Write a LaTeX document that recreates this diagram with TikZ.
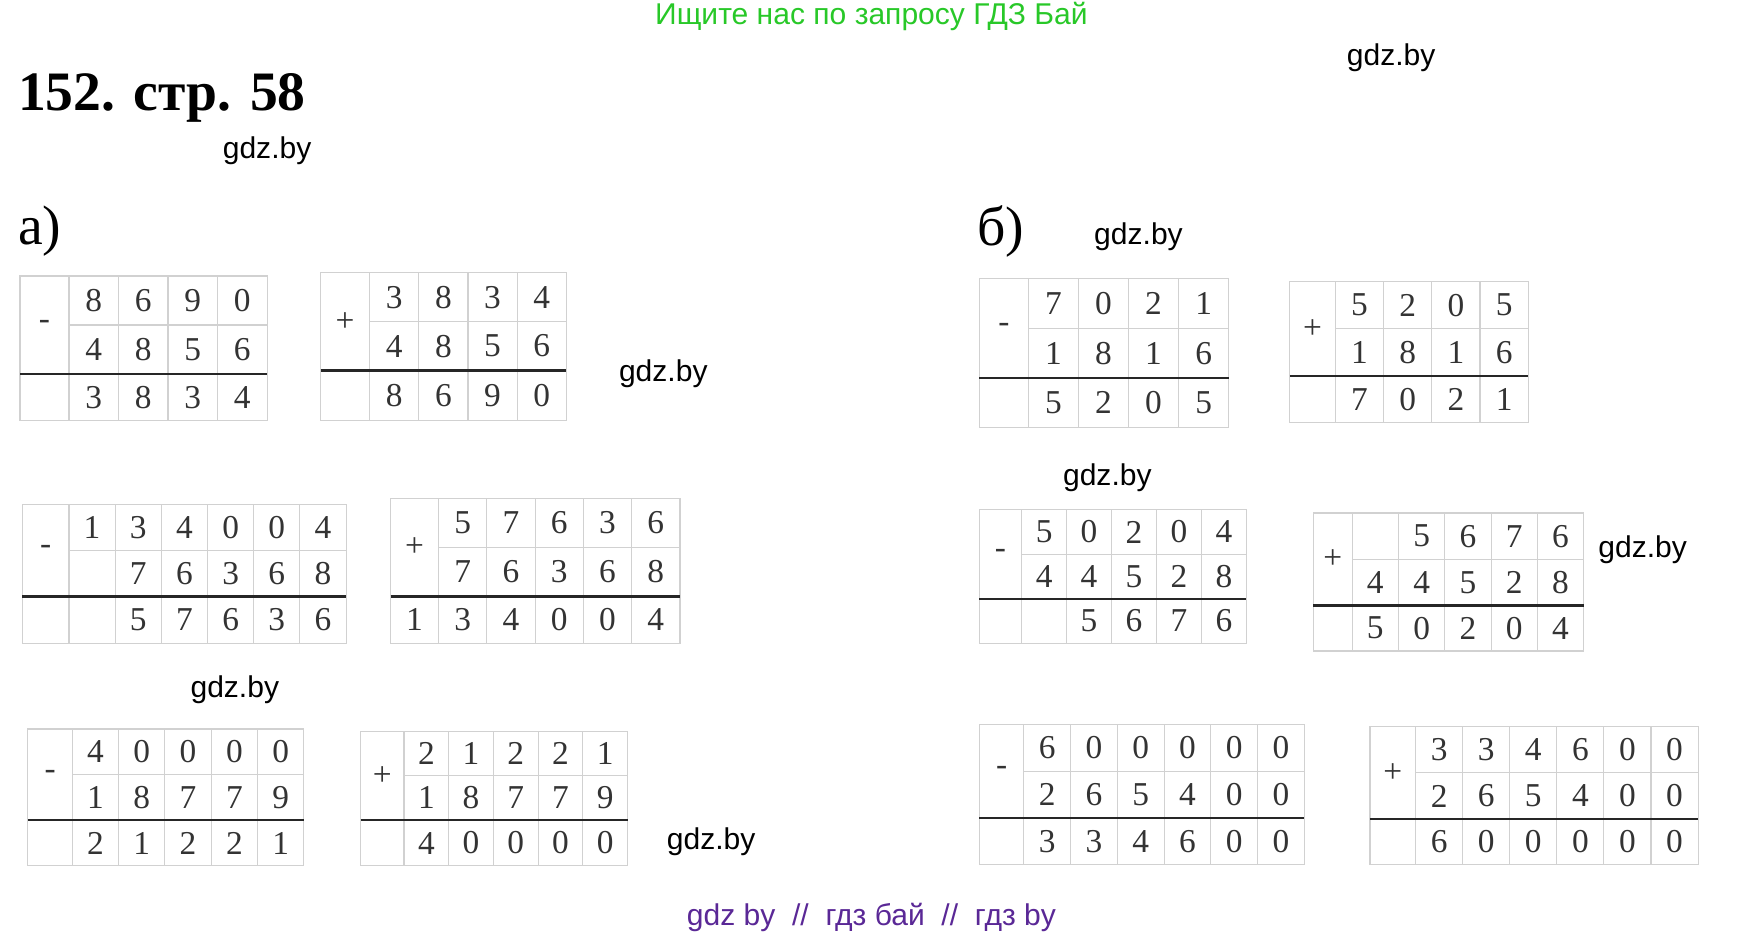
\documentclass[tikz,border=0pt]{standalone}
\usepackage{fontspec}
\setmainfont{Liberation Serif}
\newfontfamily\sansf{Liberation Sans}
\begin{document}
\begin{tikzpicture}[x=1pt,y=-1pt,
 gridl/.style={draw=black!18,line width=1pt},
 sep/.style={draw=black!85,line width=2pt},
 dig/.style={font=\fontsize{30}{30}\selectfont,text=black!80,inner sep=0pt},
 sgn/.style={font=\fontsize{30}{30}\selectfont,text=black!80,inner sep=0pt},
 wm/.style={font=\sansf\fontsize{27}{27}\selectfont,inner sep=0pt},
 big/.style={font=\fontsize{50}{50}\selectfont,inner sep=0pt,anchor=west}]
\useasboundingbox (0,0) rectangle (1568,842);
\newcommand\grid[9]{%
 \def\gn{#1}\pgfmathsetmacro\gx{#2}\pgfmathsetmacro\gy{#3}\pgfmathsetmacro\gs{#2+#4}%
 \pgfmathsetmacro\gw{#5}\pgfmathsetmacro\gxe{#2+#4+#5*#6}\pgfmathsetmacro\gl{#7}%
 \pgfmathsetmacro\gye{#8}\pgfmathsetmacro\gm{(#3+#7)/2}%
 \draw[gridl] (\gx,\gy) rectangle (\gxe,\gye);
 \draw[gridl] (\gs,\gm) -- (\gxe,\gm);
 \foreach \k in {0,...,#6} \draw[gridl] ({\gs+\k*\gw},\gy) -- ({\gs+\k*\gw},\gye);
 \draw[sep] (\gx,\gl) -- (\gxe,\gl);
 \node[sgn] (#1s) at ({(\gx+\gs)/2},\gm) {#9};}
\newcommand\row[2]{%
 \ifcase#1\or\pgfmathsetmacro\gyc{(\gy+\gm)/2}\or\pgfmathsetmacro\gyc{(\gm+\gl)/2}\or\pgfmathsetmacro\gyc{(\gl+\gye)/2}\fi
 \foreach \d [count=\i] in {#2} \node[dig] (\gn r#1c\i) at ({\gs+(\i-0.5)*\gw},\gyc) {\d};}
% texts
\node[wm,text={rgb,255:red,40;green,200;blue,40}] (top) at (783,15) {Ищите нас по запросу ГДЗ Бай};
\node[font=\bfseries\fontsize{50}{50}\selectfont,inner sep=0pt,anchor=west] (title) at (16,88) {152. стр. 58};
\node[big] (la) at (16,208) {а)};
\node[big] (lb) at (878,208) {б)};
\foreach \n/\x/\y in {w1/1250/52,w2/240/135,w3/596/336,w4/1023/213,w5/995/429,w6/1476/494,w7/211/620,w8/639/756}
 \node[wm] (\n) at (\x,\y) {gdz.by};
\node[wm,text={rgb,255:red,90;green,40;blue,150}] (bot) at (783,824) {gdz by \ // \ гдз бай \ // \ гдз by};
% a)
\grid{a1}{18}{248}{44}{44.5}{4}{336}{378}{-}
\row1{8,6,9,0}\row2{4,8,5,6}\row3{3,8,3,4}
\grid{a2}{288}{245}{44}{44.25}{4}{333}{378}{+}
\row1{3,8,3,4}\row2{4,8,5,6}\row3{8,6,9,0}
\grid{a3}{20}{453}{42}{41.5}{6}{536}{578}{-}
\row1{1,3,4,0,0,4}\row2{,7,6,3,6,8}\row3{,5,7,6,3,6}
\grid{a4}{351}{448}{43}{43.4}{5}{536}{578}{+}
\row1{5,7,6,3,6}\row2{7,6,3,6,8}\row3{3,4,0,0,4}
\node[dig] (a4r3c0) at (372.5,557) {1};
\grid{a5}{25}{655}{40}{41.6}{5}{737}{778}{-}
\row1{4,0,0,0,0}\row2{1,8,7,7,9}\row3{2,1,2,2,1}
\grid{a6}{324}{657}{39}{40.2}{5}{737}{778}{+}
\row1{2,1,2,2,1}\row2{1,8,7,7,9}\row3{4,0,0,0,0}
% b)
\grid{b1}{880}{250}{44}{45}{4}{340}{384}{-}
\row1{7,0,2,1}\row2{1,8,1,6}\row3{5,2,0,5}
\grid{b2}{1159}{253}{41}{43.3}{4}{338}{380}{+}
\row1{5,2,0,5}\row2{1,8,1,6}\row3{7,0,2,1}
\grid{b3}{880}{458}{38}{40.4}{5}{538}{578}{-}
\row1{5,0,2,0,4}\row2{4,4,5,2,8}\row3{,5,6,7,6}
\grid{b4}{1180}{461}{35}{41.6}{5}{544}{585}{+}
\row1{,5,6,7,6}\row2{4,4,5,2,8}\row3{5,0,2,0,4}
\grid{b5}{880}{651}{40}{42}{6}{735}{777}{-}
\row1{6,0,0,0,0,0}\row2{2,6,5,4,0,0}\row3{3,3,4,6,0,0}
\grid{b6}{1231}{653}{41}{42.3}{6}{736}{777}{+}
\row1{3,3,4,6,0,0}\row2{2,6,5,4,0,0}\row3{6,0,0,0,0,0}
\end{tikzpicture}
\end{document}
